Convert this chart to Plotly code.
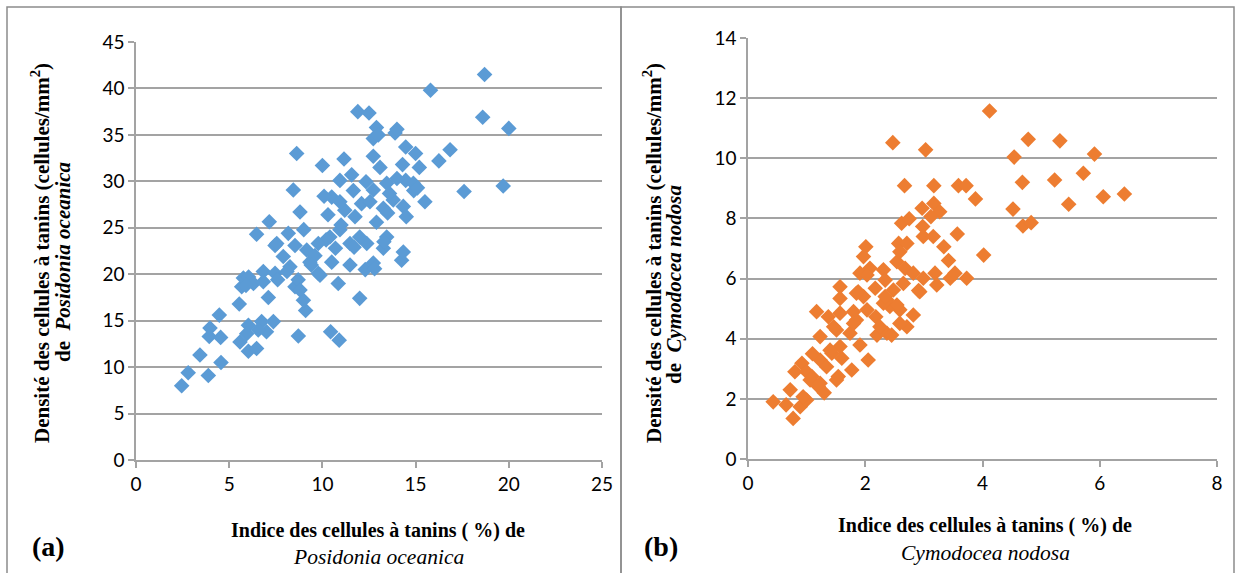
import plotly.graph_objects as go

W, H = 1238, 573

# ---------------- data ----------------
po_index = [2.45, 2.8, 3.88, 3.43, 4.56, 3.97, 3.93, 4.54, 4.47, 5.58, 6.03, 6.47, 6.03, 5.94, 6.74, 7.37, 7.0, 6.56,
            8.71, 10.44, 10.9, 5.54, 7.1, 9.1, 8.98, 5.67, 5.76, 6.04, 6.83, 7.46, 8.53, 9.87, 10.85, 11.48, 10.5, 7.46,
            6.3, 6.83, 7.6, 8.26, 8.7, 8.8, 9.33, 9.78, 12.0, 12.3, 12.73, 14.25, 14.34, 13.27, 13.45, 12.38, 12.0,
            11.48, 10.94, 10.4, 10.2, 9.78, 9.16, 8.53, 7.55, 8.17, 9.0, 6.47, 7.15, 8.8, 10.3, 11.2, 11.75, 12.1,
            12.55, 13.27, 13.8, 14.34, 14.5, 10.5, 10.94, 10.09, 8.44, 10.94, 11.57, 11.66, 12.34, 12.73, 13.45, 13.6,
            14.47, 14.88, 15.5, 8.62, 10.0, 11.16, 12.73, 13.09, 14.47, 15.0, 14.3, 15.2, 16.25, 16.85, 12.73, 13.9,
            11.9, 12.5, 12.9, 14.0, 13.0, 15.8, 18.7, 18.6, 20.0, 19.7, 17.6, 9.6, 10.7, 11.7, 12.9, 13.5, 14.9, 14.0,
            15.1, 9.4, 8.1, 5.9, 7.9, 11.0, 12.8, 13.3]
po_density = [8.0, 9.4, 9.1, 11.3, 10.5, 14.2, 13.3, 13.2, 15.6, 12.7, 11.7, 12.0, 14.5, 13.6, 14.9, 14.9, 13.8, 14.0,
              13.35, 13.8, 12.9, 16.8, 17.5, 16.1, 17.2, 18.65, 19.6, 19.7, 20.3, 20.1, 18.65, 19.9, 19.0, 21.0, 21.3,
              23.1, 19.0, 19.2, 19.4, 20.8, 19.4, 18.3, 21.3, 20.1, 17.4, 20.5, 21.2, 21.5, 22.4, 22.8, 24.0, 23.3,
              24.0, 23.3, 24.8, 24.0, 23.7, 23.3, 22.6, 23.1, 23.3, 24.4, 24.8, 24.3, 25.65, 26.7, 26.4, 26.9, 26.2,
              27.6, 27.8, 27.1, 28.0, 27.3, 26.2, 28.3, 27.8, 28.4, 29.06, 30.1, 30.7, 29.0, 29.96, 29.06, 29.8, 28.7,
              30.1, 29.8, 27.8, 33.0, 31.7, 32.4, 32.7, 31.5, 33.7, 33.0, 31.8, 31.5, 32.2, 33.4, 34.6, 35.2, 37.5,
              37.35, 35.8, 35.6, 35.0, 39.8, 41.5, 36.9, 35.7, 29.5, 28.9, 22.0, 22.8, 22.9, 25.6, 26.6, 29.0, 30.3,
              29.3, 21.0, 20.3, 18.8, 21.9, 25.3, 20.6, 23.5]

cn_index = [0.43, 0.77, 0.72, 0.89, 1.0, 0.92, 1.09, 1.2, 1.23, 1.34, 1.43, 1.54, 1.57, 1.77, 1.91, 2.05, 1.23, 0.65,
            0.94, 1.0, 1.06, 1.23, 1.4, 1.6, 1.51, 0.8, 1.1, 1.3,
            1.17, 1.37, 1.51, 1.57, 1.57, 1.57, 1.74, 1.85, 2.03, 1.88, 1.97, 1.91, 2.01, 1.97, 2.08, 2.18, 2.2, 2.37,
            2.45, 2.17, 2.31, 2.37, 2.48, 2.59, 2.65, 2.71, 2.82, 2.57, 2.71, 2.54, 2.68, 2.82, 2.99, 2.93, 2.62, 2.98,
            2.99, 3.16, 3.34, 3.57, 3.42, 3.19, 3.22, 3.45, 3.53, 3.73, 4.02, 2.59, 2.03, 1.8, 2.42, 2.31, 1.46, 1.8,
            2.25, 2.59, 2.54, 2.34, 2.34, 1.85, 2.91,
            4.12, 2.47, 3.03, 4.78, 5.32, 4.54, 5.91, 2.67, 3.17, 3.59, 3.72, 3.88, 4.68, 5.23, 5.72, 5.47, 6.06, 6.42,
            4.52, 2.97, 3.17, 3.27, 3.12, 2.75, 4.69, 4.83]
cn_density = [1.9, 1.35, 2.3, 1.74, 1.96, 3.18, 2.74, 2.41, 3.29, 3.07, 3.52, 2.74, 3.74, 2.96, 3.79, 3.29, 4.07, 1.8,
              2.07, 2.9, 2.63, 2.52, 3.62, 3.35, 2.63, 2.9, 3.5, 2.2,
              4.9, 4.73, 4.29, 4.85, 5.73, 5.34, 4.18, 4.62, 4.96, 5.56, 5.4, 6.18, 7.06, 6.73, 6.34, 4.73, 4.12, 4.18,
              4.12, 5.68, 6.29, 5.29, 5.62, 4.96, 5.84, 4.4, 4.79, 7.17, 7.17, 6.56, 6.34, 6.18, 6.01, 5.56, 7.84, 7.73,
              7.4, 7.4, 7.06, 7.48, 6.6, 6.18, 5.79, 6.01, 6.18, 6.01, 6.78, 6.89, 6.12, 4.9, 5.07, 5.18, 4.4, 4.51,
              4.4, 4.51, 5.12, 5.95, 5.4, 5.51, 5.6,
              11.57, 10.52, 10.28, 10.63, 10.58, 10.04, 10.14, 9.09, 9.09, 9.09, 9.09, 8.65, 9.2, 9.28, 9.5, 8.47, 8.72,
              8.81, 8.31, 8.34, 8.5, 8.22, 8.06, 7.99, 7.75, 7.86]

x_ticks_a = [0, 5, 10, 15, 20, 25]
y_ticks_a = [0, 5, 10, 15, 20, 25, 30, 35, 40, 45]
x_ticks_b = [0, 2, 4, 6, 8]
y_ticks_b = [0, 2, 4, 6, 8, 10, 12, 14]

blue = "#5B9BD5"
orange = "#ED7D31"
grid = "#a3a3a3"
tick_font = dict(family="Lato, Open Sans, sans-serif", size=19, color="#000000")


def px(x):
    return x / W


def py(y):
    return 1 - y / H


fig = go.Figure()
fig.add_trace(go.Scatter(x=po_index, y=po_density, mode="markers", xaxis="x", yaxis="y",
                         marker=dict(symbol="diamond", size=12, color=blue, line=dict(width=0)),
                         showlegend=False))
fig.add_trace(go.Scatter(x=cn_index, y=cn_density, mode="markers", xaxis="x2", yaxis="y2",
                         marker=dict(symbol="diamond", size=12, color=orange, line=dict(width=0)),
                         showlegend=False))

axis_common = dict(showline=True, linecolor=grid, linewidth=1.5, ticks="outside", ticklen=6, tickcolor=grid,
                   tickwidth=1.5, tickfont=tick_font, zeroline=False, fixedrange=True, automargin=False)

fig.update_layout(
    width=W, height=H, margin=dict(l=0, r=0, t=0, b=0, autoexpand=False),
    paper_bgcolor="white", plot_bgcolor="white",
    xaxis=dict(domain=[px(136), px(602)], range=[0, 25], tickvals=x_ticks_a, showgrid=False, anchor="y",
               **axis_common),
    yaxis=dict(domain=[py(460), py(42)], range=[0, 45], tickvals=y_ticks_a, showgrid=True, gridcolor=grid,
               gridwidth=1.5, anchor="x", **axis_common),
    xaxis2=dict(domain=[px(748), px(1217)], range=[0, 8], tickvals=x_ticks_b, showgrid=False, anchor="y2",
                **axis_common),
    yaxis2=dict(domain=[py(459), py(38)], range=[0, 14], tickvals=y_ticks_b, showgrid=True, gridcolor=grid,
                gridwidth=1.5, anchor="x2", **axis_common),
)

# panel frames
frame = dict(type="rect", xref="paper", yref="paper", line=dict(color="#8c8c8c", width=1.5), layer="below")
fig.add_shape(x0=px(7), x1=px(621), y0=py(575), y1=py(7), **frame)
fig.add_shape(x0=px(621), x1=px(1234), y0=py(575), y1=py(7), **frame)

serif = "Liberation Serif, Times New Roman, serif"
ann = dict(xref="paper", yref="paper", showarrow=False, xanchor="center", yanchor="middle")
ytf = dict(family=serif, size=21, color="#000")
xtf = dict(family=serif, size=20, color="#000")
xtf2 = dict(family=serif, size=21.5, color="#000")

# y titles
fig.add_annotation(x=px(40), y=py(253), text="<b>Densité des cellules à tanins (cellules/mm<sup>2</sup>)</b>",
                   textangle=-90, font=ytf, **ann)
fig.add_annotation(x=px(63), y=py(262), text="<b>de  <i>Posidonia oceanica</i></b>", textangle=-90, font=ytf, **ann)
fig.add_annotation(x=px(652), y=py(253), text="<b>Densité des cellules à tanins (cellules/mm<sup>2</sup>)</b>",
                   textangle=-90, font=ytf, **ann)
fig.add_annotation(x=px(674), y=py(285), text="<b>de  <i>Cymodocea nodosa</i></b>", textangle=-90, font=ytf, **ann)

# x titles
fig.add_annotation(x=px(378), y=py(530), text="<b>Indice des cellules à tanins ( %) de</b>", font=xtf, **ann)
fig.add_annotation(x=px(378), y=py(557), text="<i>Posidonia oceanica</i>", font=xtf2, **ann)
fig.add_annotation(x=px(985), y=py(525), text="<b>Indice des cellules à tanins ( %) de</b>", font=xtf, **ann)
fig.add_annotation(x=px(985), y=py(553), text="<i>Cymodocea nodosa</i>", font=xtf2, **ann)

# panel labels
lab = dict(family=serif, size=28, color="#000")
fig.add_annotation(x=px(48), y=py(546), text="<b>(a)</b>", font=lab, **ann)
fig.add_annotation(x=px(661), y=py(546), text="<b>(b)</b>", font=lab, **ann)

fig.write_html("out.html")
